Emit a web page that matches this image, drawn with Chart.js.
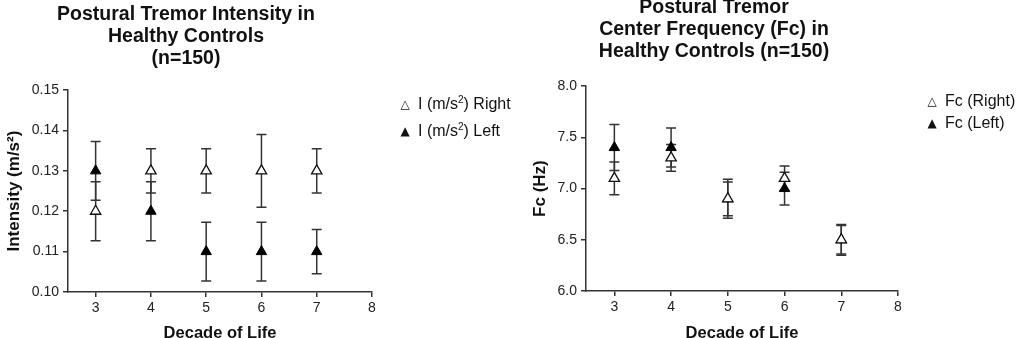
<!DOCTYPE html>
<html>
<head>
<meta charset="utf-8">
<script src="https://cdn.jsdelivr.net/npm/chart.js@4.4.1/dist/chart.umd.min.js"></script>
<style>
  body { margin: 0; background: #fff; width: 1024px; height: 338px; overflow: hidden; position: relative; font-family: "Liberation Sans", Arial, sans-serif; }
  canvas { position: absolute; }
  #cIntensity { left: 0; top: 0; }
  #cFc { left: 530px; top: -3px; }
  .leg { position: absolute; font-size: 16px; color: #111; white-space: nowrap; line-height: 20px; }
  .leg .mk { display: inline-block; width: 12px; text-align: center; font-family: "DejaVu Sans", sans-serif; font-size: 12px; margin-right: 7px; vertical-align: 1px; }
  .leg sup { font-size: 10px; vertical-align: 6px; line-height: 0; }
</style>
</head>
<body>
<canvas id="cIntensity" width="436" height="338"></canvas>
<canvas id="cFc" width="420" height="341"></canvas>

<div class="leg" style="left:399px; top:94px;"><span class="mk">△</span>I (m/s<sup>2</sup>) Right</div>
<div class="leg" style="left:399px; top:121px;"><span class="mk">▲</span>I (m/s<sup>2</sup>) Left</div>
<div class="leg" style="left:926px; top:91px;"><span class="mk">△</span>Fc (Right)</div>
<div class="leg" style="left:926px; top:113px;"><span class="mk">▲</span>Fc (Left)</div>

<script>
// Datos
const decades = [3, 4, 5, 6, 7];
const xTicks = [3, 4, 5, 6, 7, 8];

const intensityRight = [0.12, 0.13, 0.13, 0.13, 0.13];
const intensityRightErr = [0.0073, 0.0055, 0.0055, 0.009, 0.0055];
const intensityLeft = [0.13, 0.12, 0.11, 0.11, 0.11];
const intensityLeftErr = [0.0073, 0.0073, 0.0073, 0.0073, 0.0055];
const intensityTicks = [0.10, 0.11, 0.12, 0.13, 0.14, 0.15];

const fcRight = [7.1, 7.3, 6.9, 7.1, 6.5];
const fcRightErr = [0.16, 0.13, 0.165, 0.12, 0.14];
const fcLeft = [7.4, 7.4, 6.9, 7.0, 6.5];
const fcLeftErr = [0.225, 0.19, 0.19, 0.16, 0.15];
const fcTicks = [6.0, 6.5, 7.0, 7.5, 8.0];

const axisColor = '#333';
const fontFamily = '"Liberation Sans", Arial, sans-serif';

// Plugin para dibujar barras de error con las escalas del gráfico
const errorBars = {
    id: 'errorBars',
    beforeDatasetsDraw(chart) {
        const { ctx, scales: { x, y } } = chart;
        ctx.save();
        ctx.strokeStyle = axisColor;
        ctx.lineWidth = 1.5;
        chart.data.datasets.forEach(ds => {
            ds.data.forEach((p, i) => {
                const e = ds.errors[i];
                const px = x.getPixelForValue(p.x);
                const top = y.getPixelForValue(p.y + e);
                const bot = y.getPixelForValue(p.y - e);
                ctx.beginPath();
                ctx.moveTo(px, top); ctx.lineTo(px, bot);
                ctx.moveTo(px - 5, top); ctx.lineTo(px + 5, top);
                ctx.moveTo(px - 5, bot); ctx.lineTo(px + 5, bot);
                ctx.stroke();
            });
        });
        ctx.restore();
    }
};

function puntos(values) {
    return decades.map((d, i) => ({ x: d, y: values[i] }));
}

function crearGrafico(id, cfg) {
    return new Chart(document.getElementById(id), {
        type: 'scatter',
        data: {
            datasets: [{
                label: cfg.labels[0],
                data: puntos(cfg.right),
                errors: cfg.rightErr,
                pointStyle: 'triangle',
                pointRadius: 6,
                pointBackgroundColor: '#fff',
                pointBorderColor: '#111',
                pointBorderWidth: 1.3,
                showLine: false
            }, {
                label: cfg.labels[1],
                data: puntos(cfg.left),
                errors: cfg.leftErr,
                pointStyle: 'triangle',
                pointRadius: 6,
                pointBackgroundColor: '#000',
                pointBorderColor: '#000',
                pointBorderWidth: 1,
                showLine: false
            }]
        },
        options: {
            responsive: false,
            animation: false,
            devicePixelRatio: 1,
            layout: { padding: { left: 0, right: cfg.padRight, top: 0, bottom: 0 } },
            plugins: {
                legend: { display: false },
                tooltip: { enabled: false },
                title: {
                    display: true,
                    text: cfg.title,
                    color: '#111',
                    font: { family: fontFamily, size: 19.5, weight: 'bold', lineHeight: 1.13 },
                    padding: cfg.titlePad
                }
            },
            scales: {
                x: {
                    type: 'linear',
                    min: 2.5,
                    max: 8,
                    afterBuildTicks: s => { s.ticks = xTicks.map(v => ({ value: v })); },
                    afterFit: s => { s.height = cfg.xHeight; },
                    border: { display: true, color: axisColor, width: 1.5 },
                    grid: { drawOnChartArea: false, drawTicks: true, tickLength: 5, color: axisColor, lineWidth: 1.5 },
                    ticks: { color: '#222', padding: 3, font: { family: fontFamily, size: 14 } },
                    title: {
                        display: true,
                        text: 'Decade of Life',
                        color: '#111',
                        font: { family: fontFamily, size: 16.5, weight: 'bold', lineHeight: 0.6 },
                        padding: { top: 0, bottom: 0 }
                    }
                },
                y: {
                    type: 'linear',
                    min: cfg.yTicks[0],
                    max: cfg.yTicks[cfg.yTicks.length - 1],
                    afterBuildTicks: s => { s.ticks = cfg.yTicks.map(v => ({ value: v })); },
                    afterFit: s => { s.width = cfg.yWidth; },
                    border: { display: true, color: axisColor, width: 1.5 },
                    grid: { drawOnChartArea: false, drawTicks: true, tickLength: 5, color: axisColor, lineWidth: 1.5 },
                    ticks: {
                        color: '#222',
                        padding: 4,
                        font: { family: fontFamily, size: 14 },
                        callback: v => v.toFixed(cfg.decimals)
                    },
                    title: {
                        display: true,
                        text: cfg.yTitle,
                        color: '#111',
                        font: { family: fontFamily, size: 17, weight: 'bold' },
                        padding: { top: cfg.yTitlePad, bottom: 0 }
                    }
                }
            }
        },
        plugins: [errorBars]
    });
}

crearGrafico('cIntensity', {
    title: ['Postural Tremor Intensity in', 'Healthy Controls', '(n=150)'],
    labels: ['I (m/s²) Right', 'I (m/s²) Left'],
    right: intensityRight, rightErr: intensityRightErr,
    left: intensityLeft, leftErr: intensityLeftErr,
    yTicks: intensityTicks, decimals: 2,
    yTitle: 'Intensity (m/s²)', yTitlePad: 4,
    yWidth: 68, xHeight: 46, padRight: 64,
    titlePad: { top: 4, bottom: 20 }
});

crearGrafico('cFc', {
    title: ['Postural Tremor', 'Center Frequency (Fc) in', 'Healthy Controls (n=150)'],
    labels: ['Fc (Right)', 'Fc (Left)'],
    right: fcRight, rightErr: fcRightErr,
    left: fcLeft, leftErr: fcLeftErr,
    yTicks: fcTicks, decimals: 1,
    yTitle: 'Fc (Hz)', yTitlePad: 0,
    yWidth: 56, xHeight: 47, padRight: 52,
    titlePad: { top: 0, bottom: 23 }
});
</script>
</body>
</html>
